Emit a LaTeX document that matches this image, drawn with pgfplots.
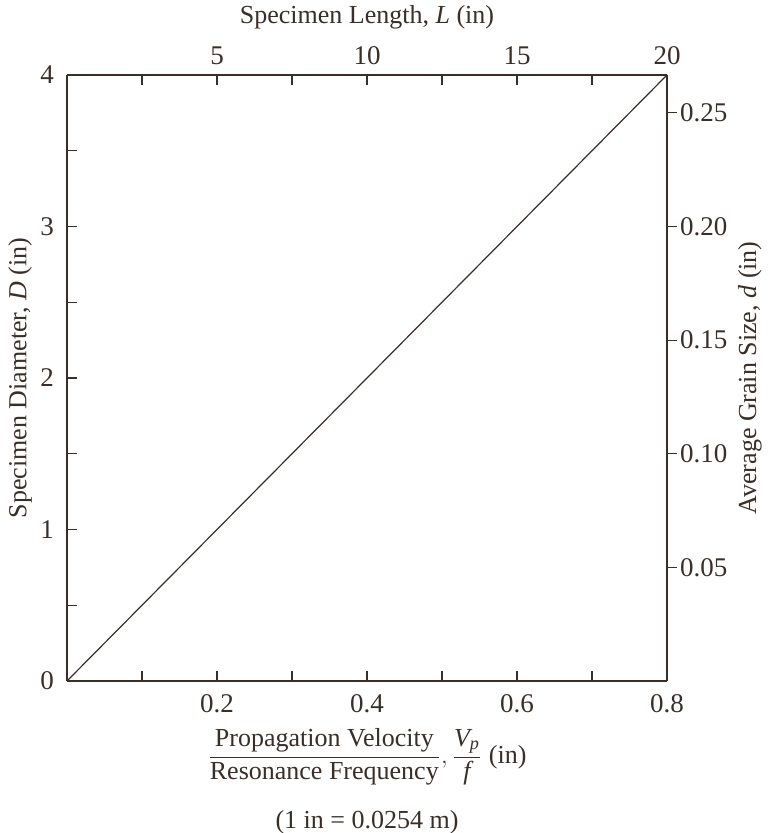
\documentclass[border=0pt]{standalone}
\usepackage{pgfplots}
\pgfplotsset{compat=1.18}
\usetikzlibrary{calc}
\usepackage{amsmath}
\usepackage{fontspec}
\setmainfont{Liberation Serif}
\definecolor{ink}{RGB}{58,46,40}

\begin{document}
\fontsize{13}{15}\selectfont
\begin{tikzpicture}
\pgfplotsset{
    every axis/.append style={
        scale only axis,
        width=300pt, height=303pt,
        axis line style={ink, line width=0.6pt},
        every tick/.style={ink, line width=0.6pt},
        major tick length=5pt, minor tick length=5pt,
        ticklabel style={ink, font=\fontsize{13.5}{15}\selectfont},
        label style={ink},
        /pgf/number format/assume math mode=true,
    },
}
% bottom / left
\begin{axis}[
    name=ax,
    clip=false,
    axis x line*=bottom, axis y line*=left,
    xmin=0, xmax=0.8, ymin=0, ymax=4,
    xtick={0.2,0.4,0.6,0.8},
    xticklabels={0.2,0.4,0.6,0.8},
    minor xtick={0.1,0.3,0.5,0.7},
    ytick={0,1,2,3,4},
    minor ytick={0.5,1.5,2.5,3.5},
    tick align=inside,
    xticklabel style={yshift=-2pt},
    yticklabel style={xshift=-2pt},
    xlabel={$\dfrac{\text{Propagation Velocity}}{\text{Resonance Frequency}},\dfrac{\textit{V}_{\textit{p}}}{\textit{f}}$ (in)},
    xlabel style={at={(axis description cs:0.5,0)}, anchor=center, yshift=-38pt},
    ylabel={Specimen Diameter, \textit{D} (in)},
    ylabel style={at={(axis description cs:0,0.5)}, anchor=center, rotate=0, yshift=23.5pt},
]
\addplot[ink, line width=0.6pt] coordinates {(0,0) (0.8,4)};
\node[ink] at (rel axis cs:0.5,0) [yshift=-70.5pt] {(1 in = 0.0254 m)};
\end{axis}
% top
\begin{axis}[
    axis x line*=top, hide y axis,
    xmin=0, xmax=20, ymin=0, ymax=4,
    xtick={5,10,15,20},
    minor xtick={2.5,7.5,12.5,17.5},
    tick align=inside,
    xticklabel style={yshift=0.5pt},
    xlabel={Specimen Length, \textit{L} (in)},
    xlabel style={at={(axis description cs:0.5,1)}, anchor=center, yshift=29pt},
]
\end{axis}
% right
\begin{axis}[
    axis y line*=right, hide x axis,
    xmin=0, xmax=20, ymin=0, ymax=0.2666667,
    ytick={0.05,0.10,0.15,0.20,0.25},
    yticklabel style={xshift=-3pt, /pgf/number format/.cd, fixed, fixed zerofill, precision=2},
    tick align=outside,
    ylabel={Average Grain Size, \textit{d} (in)},
    ylabel style={at={(axis description cs:1,0.5)}, anchor=center, yshift=-41.5pt},
]
\end{axis}
\pgfresetboundingbox
\path ($(ax.south west)+(-33.5pt,-76pt)$) rectangle ($(ax.north east)+(50pt,37.5pt)$);
\end{tikzpicture}
\end{document}
